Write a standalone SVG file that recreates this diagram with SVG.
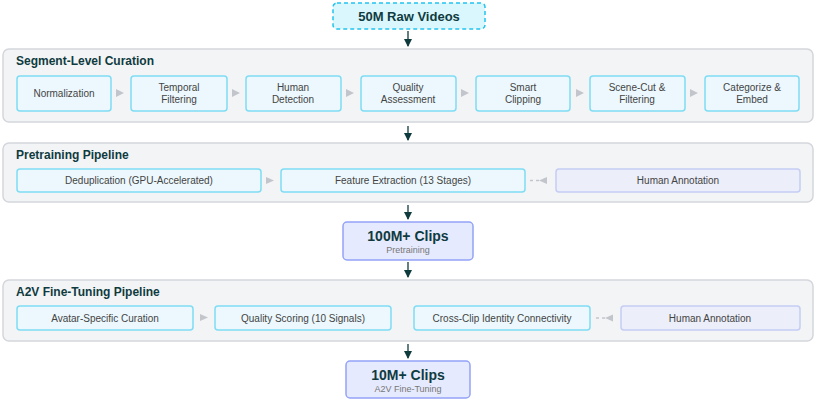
<svg xmlns="http://www.w3.org/2000/svg" width="817" height="403" viewBox="0 0 817 403">
<style>
text{font-family:"Liberation Sans",Arial,sans-serif}
.sec{fill:#f3f4f6;stroke:#d4d6db;stroke-width:1.5}
.st{font-size:12px;font-weight:bold;fill:#0f3b3f}
.n{fill:#ecf8fd;stroke:#7fdcf5;stroke-width:1.5}
.h{fill:#eceefa;stroke:#c5cdf5;stroke-width:1.5}
.t{font-size:10px;fill:#444;text-anchor:middle}
.big{fill:#e6eafe;stroke:#93a3f7;stroke-width:1.5}
.bt{font-size:14px;font-weight:bold;fill:#0f3b3f;text-anchor:middle}
.sub{font-size:9px;fill:#777;text-anchor:middle}
.a{stroke:#0f3b3f;stroke-width:1.3;fill:none;marker-end:url(#ah)}
.g{fill:#c2c5cc}
.d{stroke:#c2c5cc;stroke-width:1.3;stroke-dasharray:3,3;fill:none}
</style>
<defs><marker id="ah" markerWidth="8" markerHeight="8" refX="7" refY="4" orient="auto" markerUnits="userSpaceOnUse"><path d="M0,0L8,4L0,8z" fill="#0f3b3f"/></marker></defs>
<g id="raw"><rect x="333" y="3" width="152" height="26" rx="4" fill="#d9f7fc" stroke="#22c3ee" stroke-width="1.5" stroke-dasharray="4,3"/><text class="bt" x="409" y="21" style="font-size:13px">50M Raw Videos</text></g>
<g id="seg">
<rect class="sec" x="3" y="49" width="810" height="73" rx="6"/><text class="st" x="16" y="65">Segment-Level Curation</text>
<g id="n1"><rect class="n" x="17" y="76" width="94" height="35" rx="3"/><text class="t" x="64" y="97">Normalization</text></g>
<g id="n2"><rect class="n" x="131" y="76" width="96" height="35" rx="3"/><text class="t" x="179" y="91">Temporal</text><text class="t" x="179" y="103">Filtering</text></g>
<g id="n3"><rect class="n" x="246" y="76" width="95" height="35" rx="3"/><text class="t" x="293" y="91">Human</text><text class="t" x="293" y="103">Detection</text></g>
<g id="n4"><rect class="n" x="361" y="76" width="95" height="35" rx="3"/><text class="t" x="408" y="91">Quality</text><text class="t" x="408" y="103">Assessment</text></g>
<g id="n5"><rect class="n" x="476" y="76" width="94" height="35" rx="3"/><text class="t" x="523" y="91">Smart</text><text class="t" x="523" y="103">Clipping</text></g>
<g id="n6"><rect class="n" x="590" y="76" width="95" height="35" rx="3"/><text class="t" x="637" y="91">Scene-Cut &amp;</text><text class="t" x="637" y="103">Filtering</text></g>
<g id="n7"><rect class="n" x="705" y="76" width="94" height="35" rx="3"/><text class="t" x="752" y="91">Categorize &amp;</text><text class="t" x="752" y="103">Embed</text></g>
</g>
<g id="pre">
<rect class="sec" x="3" y="143" width="810" height="59" rx="6"/><text class="st" x="16" y="159">Pretraining Pipeline</text>
<g id="p1"><rect class="n" x="17" y="169" width="244" height="23" rx="3"/><text class="t" x="139" y="184">Deduplication (GPU-Accelerated)</text></g>
<g id="p2"><rect class="n" x="281" y="169" width="244" height="23" rx="3"/><text class="t" x="403" y="184">Feature Extraction (13 Stages)</text></g>
<g id="p3"><rect class="h" x="556" y="169" width="244" height="23" rx="3"/><text class="t" x="678" y="184">Human Annotation</text></g>
</g>
<g id="c100"><rect class="big" x="343" y="222" width="130" height="38" rx="4"/><text class="bt" x="408" y="241">100M+ Clips</text><text class="sub" x="408" y="253">Pretraining</text></g>
<g id="a2v">
<rect class="sec" x="3" y="280" width="810" height="61" rx="6"/><text class="st" x="16" y="296">A2V Fine-Tuning Pipeline</text>
<g id="f1"><rect class="n" x="17" y="306" width="176" height="24" rx="3"/><text class="t" x="105" y="322">Avatar-Specific Curation</text></g>
<g id="f2"><rect class="n" x="215" y="306" width="176" height="24" rx="3"/><text class="t" x="303" y="322">Quality Scoring (10 Signals)</text></g>
<g id="f3"><rect class="n" x="414" y="306" width="176" height="24" rx="3"/><text class="t" x="502" y="322">Cross-Clip Identity Connectivity</text></g>
<g id="f4"><rect class="h" x="621" y="306" width="179" height="24" rx="3"/><text class="t" x="710" y="322">Human Annotation</text></g>
</g>
<g id="c10"><rect class="big" x="346" y="361" width="124" height="37" rx="4"/><text class="bt" x="408" y="380">10M+ Clips</text><text class="sub" x="408" y="392">A2V Fine-Tuning</text></g>
<g id="connectors">
<path class="a" d="M408,31V46"/><path class="a" d="M408,126V140"/><path class="a" d="M408,205V219"/><path class="a" d="M408,262V277"/><path class="a" d="M408,344V358"/>
<path class="g" d="M116,89l8,4l-8,4z"/><path class="g" d="M232,89l8,4l-8,4z"/><path class="g" d="M346,89l8,4l-8,4z"/><path class="g" d="M461,89l8,4l-8,4z"/><path class="g" d="M576,89l8,4l-8,4z"/><path class="g" d="M690,89l8,4l-8,4z"/>
<path class="g" d="M266,177l8,3.5l-8,3.5z"/><path class="g" d="M200,314l8,3.5l-8,3.5z"/>
<path class="d" d="M530,180.5H546"/><path class="g" d="M539,180.5l8,-3.5v7z"/>
<path class="d" d="M596,318H612"/><path class="g" d="M605,318l8,-3.5v7z"/>
</g>
</svg>
